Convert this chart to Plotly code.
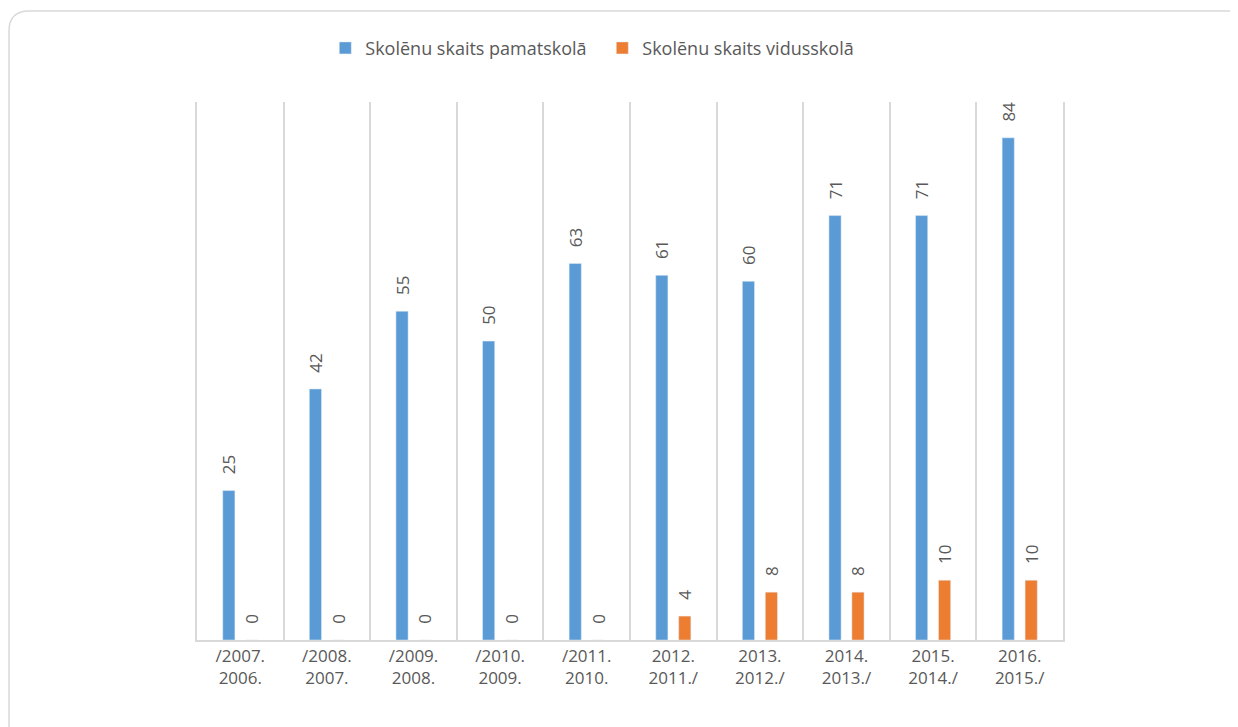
import plotly.graph_objects as go

# school years as they appear under the bars
years = [
    "/2007.<br>2006.", "/2008.<br>2007.", "/2009.<br>2008.", "/2010.<br>2009.",
    "/2011.<br>2010.", "2012.<br>2011./", "2013.<br>2012./", "2014.<br>2013./",
    "2015.<br>2014./", "2016.<br>2015./",
]
pamatskola = [25, 42, 55, 50, 63, 61, 60, 71, 71, 84]
vidusskola = [0, 0, 0, 0, 0, 4, 8, 8, 10, 10]

BLUE = "#5b9bd5"
ORANGE = "#ed7d31"
GREY_TEXT = "#595959"
GRID = "#d9d9d9"

label_font = dict(size=17, color=GREY_TEXT)

fig = go.Figure()
for name, vals, color in [("Skolēnu skaits pamatskolā", pamatskola, BLUE),
                          ("Skolēnu skaits vidusskolā", vidusskola, ORANGE)]:
    fig.add_trace(go.Bar(
        x=years, y=vals, name=name, marker_color=color,
        text=vals, texttemplate="\u00a0\u00a0\u00a0%{y}", textposition="outside",
        textangle=-90, constraintext="none", cliponaxis=False,
        textfont=label_font,
    ))

# rounded chart border (paper coords: plot area is 866 x 538 px)
W, H = 866.0, 538.0
x0 = -188 / W
yt = 1 + 91 / H
r_x, r_y = 20 / W, 20 / H
x_far = 1 + 300 / W
y_far = -200 / H
border = (f"M {x0},{y_far} L {x0},{yt - r_y} Q {x0},{yt} {x0 + r_x},{yt} "
          f"L {x_far},{yt}")

fig.update_layout(
    width=1238, height=727,
    margin=dict(l=189, r=183, t=94, b=95),
    paper_bgcolor="white", plot_bgcolor="white",
    barmode="group", bargap=0.47, bargroupgap=0.47,
    font=dict(family="Open Sans, sans-serif", color=GREY_TEXT),
    legend=dict(orientation="h", x=0.468, xanchor="center", y=1.10, yanchor="middle",
                font=dict(size=18, color=GREY_TEXT), entrywidth=232,
                traceorder="normal"),
    shapes=[dict(type="path", path=border, xref="paper", yref="paper",
                 line=dict(color=GRID, width=1.5), layer="below")],
    xaxis=dict(type="category", tickson="boundaries", showgrid=True,
               gridcolor=GRID, gridwidth=1.5, showline=True, linecolor=GRID,
               linewidth=1.5, ticks="", tickfont=dict(size=17, color=GREY_TEXT)),
    yaxis=dict(range=[0, 90], showgrid=False, zeroline=False,
               showticklabels=False, ticks="", showline=True, mirror=True,
               linecolor=GRID, linewidth=1.5),
)

fig.write_html("out.html")
